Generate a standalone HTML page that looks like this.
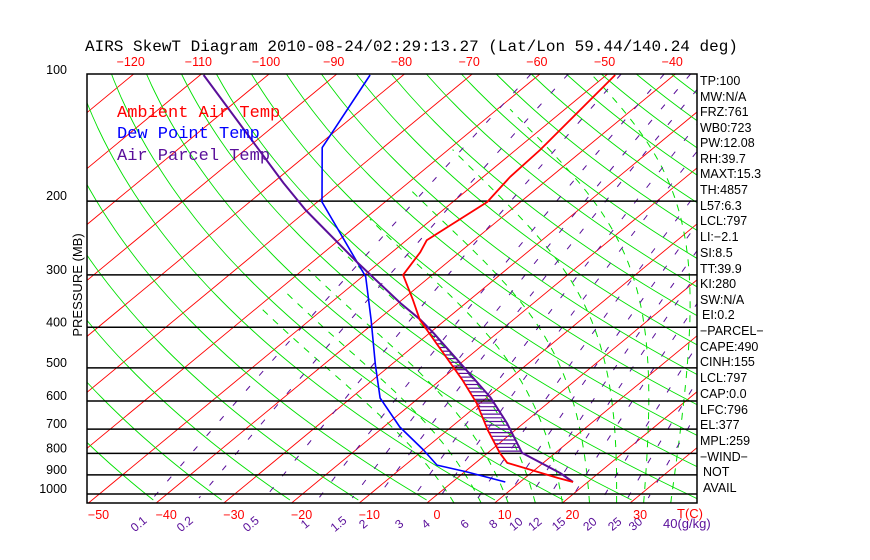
<!DOCTYPE html>
<html><head><meta charset="utf-8">
<style>
html,body{margin:0;padding:0;background:#fff;}
svg{display:block;font-family:"Liberation Sans",sans-serif;}
</style></head>
<body>
<svg id="chart" width="870" height="560" viewBox="0 0 870 560" xmlns="http://www.w3.org/2000/svg">
<defs><clipPath id="plotclip"><rect x="87" y="74" width="610" height="429"/></clipPath></defs>
<rect x="0" y="0" width="870" height="560" fill="#fff"/>
<text x="85" y="51" font-family="Liberation Mono, monospace" font-size="16" fill="#000">AIRS SkewT Diagram 2010-08-24/02:29:13.27 (Lat/Lon 59.44/140.24 deg)</text>
<g id="grid" clip-path="url(#plotclip)"></g>
<g id="series" clip-path="url(#plotclip)"></g>
<rect x="87" y="74" width="610" height="429" fill="none" stroke="#000" stroke-width="1.5"/>
<g id="labels"></g>
<g font-family="Liberation Mono, monospace" font-size="17">
<text x="117" y="117" fill="#ff0000">Ambient Air Temp</text>
<text x="117" y="138" fill="#0000ff">Dew Point Temp</text>
<text x="117" y="160" fill="#5a0f9a">Air Parcel Temp</text>
</g>
<text transform="translate(82,285) rotate(-90)" text-anchor="middle" font-size="13" fill="#000">PRESSURE (MB)</text>
<text x="677" y="518" font-size="13" fill="#ff0000">T(C)</text>
<text x="663" y="528" font-size="13" fill="#5a0f9a">40(g/kg)</text>
<g id="stats" font-size="12.5" fill="#000">
<text x="700" y="85">TP:100</text>
<text x="700" y="101">MW:N/A</text>
<text x="700" y="116">FRZ:761</text>
<text x="700" y="132">WB0:723</text>
<text x="700" y="147">PW:12.08</text>
<text x="700" y="163">RH:39.7</text>
<text x="700" y="178">MAXT:15.3</text>
<text x="700" y="194">TH:4857</text>
<text x="700" y="210">L57:6.3</text>
<text x="700" y="225">LCL:797</text>
<text x="700" y="241">LI:−2.1</text>
<text x="700" y="257">SI:8.5</text>
<text x="700" y="273">TT:39.9</text>
<text x="700" y="288">KI:280</text>
<text x="700" y="304">SW:N/A</text>
<text x="702" y="319">EI:0.2</text>
<text x="700" y="335">−PARCEL−</text>
<text x="700" y="351">CAPE:490</text>
<text x="700" y="366">CINH:155</text>
<text x="700" y="382">LCL:797</text>
<text x="700" y="398">CAP:0.0</text>
<text x="700" y="414">LFC:796</text>
<text x="700" y="429">EL:377</text>
<text x="700" y="445">MPL:259</text>
<text x="700" y="461">−WIND−</text>
<text x="703" y="476">NOT</text>
<text x="703" y="492">AVAIL</text>
</g>
</svg>
<script>
// ---- data ----
const pressureTicks = [100,200,300,400,500,600,700,800,900,1000];
const bottomTempTicks = [-50,-40,-30,-20,-10,0,10,20,30];
const topTempTicks = [-120,-110,-100,-90,-80,-70,-60,-50,-40];
const mixingRatios = [0.1,0.2,0.5,1,1.5,2,3,4,6,8,10,12,15,20,25,30];
const mixingLabels = ["0.1","0.2","0.5","1","1.5","2","3","4","6","8","10","12","15","20","25","30"];
const ambientP = [100,151,175,201,248,265,300,344,384,453,498,534,607,703,798,843,916,936];
const ambientT = [-48.7,-46.4,-46,-44.9,-47,-45.8,-44.3,-38.4,-33.8,-25.3,-20.4,-16.8,-10.5,-4.1,1.8,4.7,14.9,17.8];
const dewP = [100,149,201,280,303,384,492,590,692,785,853,886,936];
const dewT = [-84.9,-79,-69.3,-53.3,-49.5,-41,-32.3,-25.7,-17.6,-10,-5.3,0.4,7.8];
const parcelP = [100,181,210,280,350,384,413,487,587,677,798,891,936];
const parcelT = [-109.5,-78.4,-70.3,-53.3,-39.7,-33.7,-29.4,-20.1,-9.6,-2.5,5.1,14.3,17.8];

// ---- axes ----
const Y0=75, YS=419, XB=427, XK=6.77, SKEW=1.21, YBOT=503, XL=87, XR=697, YT=74;
function yP(p){return Y0+YS*Math.log10(p/100);}
function xT(t,p){return XB+XK*t+SKEW*(YBOT-yP(p));}
function pY(y){return 100*Math.pow(10,(y-Y0)/YS);}
const NS="http://www.w3.org/2000/svg";
function mk(tag,attrs,parent){const e=document.createElementNS(NS,tag);for(const k in attrs)e.setAttribute(k,attrs[k]);parent.appendChild(e);return e;}
const grid=document.getElementById('grid'), series=document.getElementById('series'), labels=document.getElementById('labels');
const PB=pY(YBOT), PTOP=pY(YT);

// isotherms
for(let t=-170;t<=60;t+=10){
  const l=mk('line',{x1:xT(t,PB),y1:YBOT,x2:xT(t,PTOP),y2:YT,stroke:'#ff0000','stroke-width':0.9},grid);
  
  
}
// dry adiabats
for(let th=200;th<=560;th+=10){
  let pts=[];
  for(let y=YT;y<=YBOT;y+=6){const p=pY(y);const t=th*Math.pow(p/1000,0.286)-273.15;pts.push(xT(t,p).toFixed(1)+','+y);}
  const pl=mk('polyline',{points:pts.join(' '),fill:'none',stroke:'#00e000','stroke-width':0.9},grid);
  
  
}
// moist adiabats
function es(tc){return 6.112*Math.exp(17.67*tc/(tc+243.5));}
for(let t0=4;t0<=44;t0+=4){
  let T=t0+273.15,p=PB,pts=[];
  while(p>PTOP && T-273.15>-60){
    pts.push(xT(T-273.15,p).toFixed(1)+','+yP(p).toFixed(1));
    const rs=0.622*es(T-273.15)/(p-es(T-273.15));
    const dTdp=(287*T+2.5e6*rs)/(p*(1004+2.5e6*2.5e6*rs*0.622/(287*T*T)));
    const dp=-5;T+=dTdp*dp;p+=dp;
  }
  const pl=mk('polyline',{points:pts.join(' '),fill:'none',stroke:'#00e000','stroke-width':1,'stroke-dasharray':'7 7'},grid);
  
  
}
// mixing ratio lines
function tdw(w,p){const e=w*p/(622+w);const l=Math.log(e/6.112);return 243.5*l/(17.67-l);}
mixingRatios.forEach((w,i)=>{
  let pts=[];
  for(let y=YT;y<=YBOT;y+=8){const p=pY(y);pts.push(xT(tdw(w,p),p).toFixed(1)+','+y);}
  const pl=mk('polyline',{points:pts.join(' '),fill:'none',stroke:'#5a0f9a','stroke-width':1,'stroke-dasharray':'6 14'},grid);
  
  
  const lx=xT(tdw(w,PB),PB)-10;
  const tx=mk('text',{x:lx,y:528,'font-size':12,fill:'#5a0f9a','text-anchor':'middle',transform:'rotate(-40 '+lx+' 524)'},labels);
  tx.textContent=mixingLabels[i];
  
  
});
// isobars
pressureTicks.forEach(p=>{
  const y=yP(p);
  if(p>100){const l=mk('line',{x1:XL,y1:y,x2:XR,y2:y,stroke:'#000','stroke-width':1.5},grid);
  
  }
  const t=mk('text',{x:67,y:y-1,'font-size':12.5,fill:'#000','text-anchor':'end'},labels);
  t.textContent=p;
  
  
});
bottomTempTicks.forEach(t=>{
  const x=xT(t,PB)+10;
  const tx=mk('text',{x:x,y:519,'font-size':12.5,fill:'#ff0000','text-anchor':'middle'},labels);
  tx.textContent=(t<0?'−':'')+Math.abs(t);
  
  
});
topTempTicks.forEach(t=>{
  const x=xT(t,PTOP)-3;
  const tx=mk('text',{x:x,y:66,'font-size':12.5,fill:'#ff0000','text-anchor':'middle'},labels);
  tx.textContent=(t<0?'−':'')+Math.abs(t);
  
  
});

// ---- series ----
function xAt(P,T,y){const p=pY(y);
  for(let i=0;i<P.length-1;i++){if(p>=P[i]&&p<=P[i+1]){const f=(Math.log(p)-Math.log(P[i]))/(Math.log(P[i+1])-Math.log(P[i]));return xT(T[i]+f*(T[i+1]-T[i]),p);}}
  return null;}
// CAPE hatching
for(let y=329;y<=453;y+=3.7){
  const xa=xAt(ambientP,ambientT,y), xp=xAt(parcelP,parcelT,y);
  if(xa!==null&&xp!==null&&xp>xa){
    const l=mk('line',{x1:xa,y1:y,x2:xp,y2:y,stroke:'#5a0f9a','stroke-width':1.2},series);
    
    
  }
}
function drawSeries(P,T,color,w,name){
  const pts=P.map((p,i)=>xT(T[i],p).toFixed(1)+','+yP(p).toFixed(1)).join(' ');
  const pl=mk('polyline',{points:pts,fill:'none',stroke:color,'stroke-width':w,'stroke-linejoin':'round'},series);
  
  
}
drawSeries(dewP,dewT,'#0000ff',1.6,'dew-point-line');
drawSeries(parcelP,parcelT,'#5a0f9a',2,'parcel-line');
drawSeries(ambientP,ambientT,'#ff0000',1.8,'ambient-temp-line');
</script>
</body></html>
